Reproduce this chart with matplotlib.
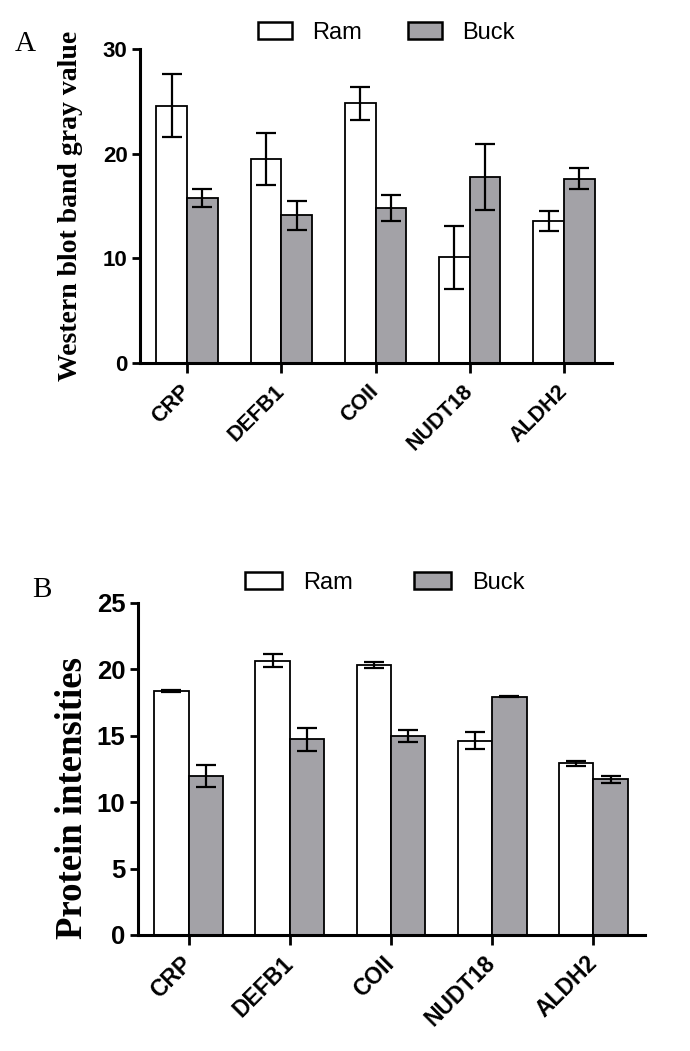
import numpy as np
import matplotlib
matplotlib.use("Agg")
import matplotlib.pyplot as plt

# ---------------- data ----------------
genes = ["CRP", "DEFB1", "COII", "NUDT18", "ALDH2"]
groups = ["Ram", "Buck"]

# Panel A: Western blot band gray value
wb_ram = [24.6, 19.5, 24.8, 10.1, 13.6]
wb_ram_err = [3.0, 2.5, 1.55, 3.0, 0.95]
wb_buck = [15.8, 14.1, 14.8, 17.8, 17.6]
wb_buck_err = [0.85, 1.35, 1.25, 3.15, 1.0]

# Panel B: Protein intensities
pi_ram = [18.4, 20.67, 20.34, 14.63, 12.94]
pi_ram_err = [0.08, 0.5, 0.22, 0.63, 0.2]
pi_buck = [11.97, 14.73, 14.98, 17.95, 11.72]
pi_buck_err = [0.8, 0.85, 0.42, 0.05, 0.26]

yticks_a = [0, 10, 20, 30]
yticks_b = [0, 5, 10, 15, 20, 25]

# ---------------- style ----------------
W, H = 690, 1051
fig = plt.figure(figsize=(W / 100, H / 100), dpi=100)
fig.patch.set_facecolor("white")

def fx(px):
    return px / W

def fy(py):
    return 1 - py / H

BUCK_COLOR = "#a3a2a7"
SANS = ["Liberation Sans", "DejaVu Sans"]
SERIF = ["Liberation Serif", "DejaVu Serif"]


def panel(ax, ram, ram_err, buck, buck_err, width, ylim, yticks,
          ytick_size, xtick_size, xpad):
    x = np.arange(len(genes))
    b1 = ax.bar(x - width / 2, ram, width, color="white", edgecolor="black",
                linewidth=1.3, label=groups[0], zorder=2)
    b2 = ax.bar(x + width / 2, buck, width, color=BUCK_COLOR, edgecolor="black",
                linewidth=1.3, label=groups[1], zorder=2)
    ax.errorbar(x - width / 2, ram, yerr=ram_err, fmt="none", ecolor="black",
                elinewidth=1.6, capsize=7, capthick=1.6, zorder=3)
    ax.errorbar(x + width / 2, buck, yerr=buck_err, fmt="none", ecolor="black",
                elinewidth=1.6, capsize=7, capthick=1.6, zorder=3)
    ax.set_xlim(-0.5, len(genes) - 0.49)
    ax.set_ylim(*ylim)
    ax.set_yticks(yticks)
    ax.set_xticks(x)
    ax.set_xticklabels(genes, rotation=45, ha="right", va="center",
                       rotation_mode="anchor", fontsize=xtick_size,
                       fontweight="bold", family=SANS)
    for lab in ax.get_yticklabels():
        lab.set_fontsize(ytick_size)
        lab.set_fontweight("bold")
        lab.set_family(SANS)
    for s in ["top", "right"]:
        ax.spines[s].set_visible(False)
    for s in ["left", "bottom"]:
        ax.spines[s].set_linewidth(2.2)
    ax.tick_params(axis="y", length=6, width=2, pad=3)
    ax.tick_params(axis="x", length=7, width=2, pad=xpad)
    ax.set_facecolor("white")
    return b1, b2


def legend(handles, anchor, colspace, textpad, hlen):
    leg = fig.legend(handles, groups, loc="center left",
                     bbox_to_anchor=anchor, frameon=False, ncol=2,
                     prop={"family": SANS, "size": 17},
                     handlelength=hlen, handleheight=0.72,
                     handletextpad=textpad, columnspacing=colspace,
                     borderpad=0, borderaxespad=0)
    for p in leg.get_patches():
        p.set_linewidth(1.8)
    return leg


# Panel A
axA = fig.add_axes([fx(140), fy(363), fx(612) - fx(140), (363 - 49) / H])
hA = panel(axA, wb_ram, wb_ram_err, wb_buck, wb_buck_err, 0.325,
           (0, 30), yticks_a, 16, 15.5, 11)
legend(hA, (fx(258), fy(33)), 1.95, 0.85, 1.45)
fig.text(fx(71), fy(206), "Western blot band gray value", rotation=90,
         ha="center", va="center", fontsize=20, fontweight="bold",
         family=SERIF)
fig.text(fx(25), fy(44), "A", ha="center", va="center", fontsize=21,
         family=SERIF)

# Panel B
axB = fig.add_axes([fx(138), fy(935), fx(645) - fx(138), (935 - 603) / H])
hB = panel(axB, pi_ram, pi_ram_err, pi_buck, pi_buck_err, 0.34,
           (0, 25), yticks_b, 18.5, 16.5, 11)
legend(hB, (fx(245), fy(583)), 2.6, 0.9, 1.55)
fig.text(fx(72), fy(798), "Protein intensities", rotation=90,
         ha="center", va="center", fontsize=26.5, fontweight="bold",
         family=SERIF)
fig.text(fx(42), fy(590), "B", ha="center", va="center", fontsize=21,
         family=SERIF)

fig.savefig("out.png", dpi=100, facecolor="white")
